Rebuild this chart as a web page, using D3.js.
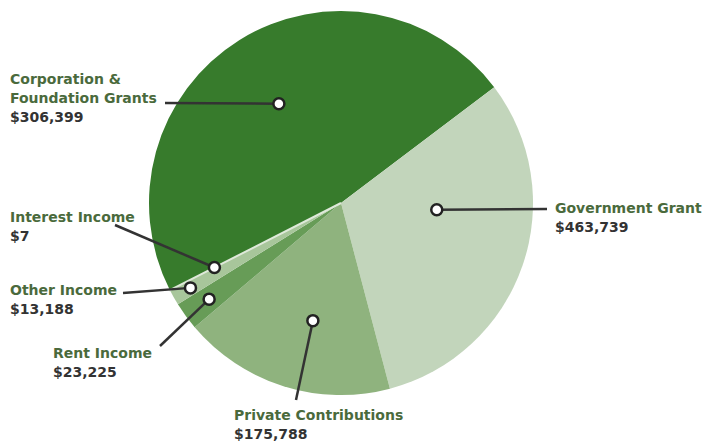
<!DOCTYPE html>
<html>
<head>
<meta charset="utf-8">
<script src="https://cdn.jsdelivr.net/npm/d3@7"></script>
<style>
  html, body { margin: 0; padding: 0; background: #fff; }
  svg { display: block; }
  .cat { font-family: "DejaVu Sans", Verdana, sans-serif; font-weight: bold; font-size: 14px; fill: #4a6a3c; }
  .amt { font-family: "DejaVu Sans", Verdana, sans-serif; font-weight: bold; font-size: 14px; fill: #333; }
</style>
</head>
<body>
<svg id="chart" width="706" height="443"></svg>
<script>
// slices, in drawing order (clockwise)
var categories = ["Government Grant", "Corporation & Foundation Grants", "Private Contributions", "Rent Income", "Other Income", "Interest Income"];
var values = [463739, 306399, 175788, 23225, 13188, 7];
var colors = ["#377b2c", "#c2d5bb", "#8fb37e", "#679c57", "#a8c69b", "#dfe9da"];

// labels as printed on the chart (the first two point at each other's slice)
var labelText = ["Corporation &\nFoundation Grants", "Government Grant", "Private Contributions", "Rent Income", "Other Income", "Interest Income"];
var labelAmount = ["$306,399", "$463,739", "$175,788", "$23,225", "$13,188", "$7"];
var labelSlice = [0, 1, 2, 3, 4, 5];

// layout of labels: text position, leader start, anchor radius / angle shift
var layout = [
  { tx: 10,  ty: 84,  lx: 165, ly: 103, rf: 0.61, da: 0 },
  { tx: 555, ty: 213, lx: 547, ly: 209, rf: 0.50, da: -15 },
  { tx: 234, ty: 420, lx: 296, ly: 400, rf: 0.63, da: -4 },
  { tx: 53,  ty: 358, lx: 160, ly: 346, rf: 0.85, da: 0 },
  { tx: 10,  ty: 295, lx: 123, ly: 293, rf: 0.90, da: 0 },
  { tx: 10,  ty: 222, lx: 115, ly: 225, rf: 0.74, da: 0 }
];

var width = 706, height = 443;
var cx = 341, cy = 203, radius = 192;

var svg = d3.select("#chart");
var g = svg.append("g").attr("transform", "translate(" + cx + "," + cy + ")");

var pie = d3.pie()
    .sort(null)
    .value(function(d) { return d; })
    .startAngle(-117 * Math.PI / 180)
    .endAngle(243 * Math.PI / 180);

var arcs = pie(values);
var arc = d3.arc().innerRadius(0).outerRadius(radius);

g.selectAll("path.slice")
    .data(arcs)
    .enter()
    .append("path")
    .attr("class", "slice")
    .attr("d", arc)
    .attr("fill", function(d, i) { return colors[i]; })
    .attr("stroke", function(d, i) { return i == 5 ? colors[i] : "none"; })
    .attr("stroke-width", 2);

// labels
var labels = svg.append("g");
labelText.forEach(function(txt, i) {
    var a = arcs[labelSlice[i]];
    var L = layout[i];
    var ang = (a.startAngle + a.endAngle) / 2 + L.da * Math.PI / 180;
    var r = radius * L.rf;
    var px = cx + Math.sin(ang) * r;
    var py = cy - Math.cos(ang) * r;

    labels.append("line")
        .attr("x1", L.lx).attr("y1", L.ly)
        .attr("x2", px).attr("y2", py)
        .attr("stroke", "#333")
        .attr("stroke-width", 2.5);

    var lines = txt.split("\n");
    var t = labels.append("text").attr("x", L.tx).attr("y", L.ty);
    lines.forEach(function(s, j) {
        t.append("tspan").attr("class", "cat")
            .attr("x", L.tx).attr("dy", j == 0 ? 0 : 19).text(s);
    });
    t.append("tspan").attr("class", "amt")
        .attr("x", L.tx).attr("dy", 19).text(labelAmount[i]);

    labels.append("circle")
        .attr("cx", px).attr("cy", py)
        .attr("r", 5.5)
        .attr("fill", "#fff")
        .attr("stroke", "#222")
        .attr("stroke-width", 2.5);
});
</script>
</body>
</html>
